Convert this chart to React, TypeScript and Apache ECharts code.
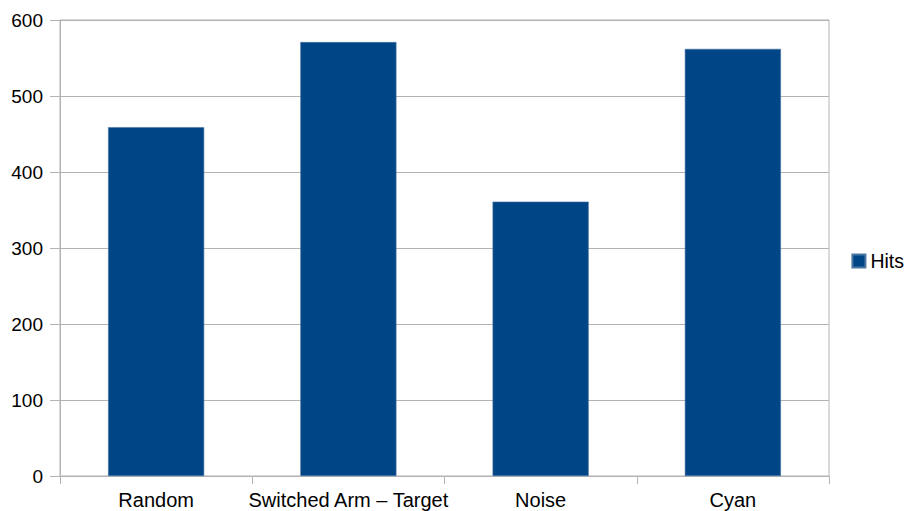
import React, { useEffect, useRef } from "react";
import * as echarts from "echarts";

const categories = ["Random", "Switched Arm – Target", "Noise", "Cyan"];
const hits = [459, 571, 361, 562];
const seriesName = "Hits";

const FONT = "'Liberation Sans', Arial, sans-serif";
const GRID_GREY = "#b3b3b3";

export default function App() {
  const ref = useRef<HTMLDivElement>(null);

  useEffect(() => {
    if (!ref.current) return;
    const chart = echarts.init(ref.current, undefined, { renderer: "svg" });
    chart.setOption({
      animation: false,
      backgroundColor: "#ffffff",
      textStyle: { fontFamily: FONT },
      grid: {
        left: 60,
        right: 80,
        top: 20,
        bottom: 35,
        show: true,
        borderColor: GRID_GREY,
        borderWidth: 1,
      },
      legend: {
        right: 0,
        top: 246,
        orient: "vertical",
        itemWidth: 13,
        itemHeight: 13,
        itemGap: 6,
        icon: "rect",
        textStyle: { fontSize: 19.5, color: "#000", fontFamily: FONT },
        data: [seriesName],
      },
      xAxis: {
        type: "category",
        data: categories,
        boundaryGap: true,
        axisLine: { show: true, lineStyle: { color: GRID_GREY, width: 1 } },
        axisTick: { show: true, length: 8, lineStyle: { color: GRID_GREY } },
        axisLabel: { color: "#000", fontSize: 20, fontFamily: FONT, margin: 14, interval: 0 },
        splitLine: { show: false },
      },
      yAxis: {
        type: "value",
        min: 0,
        max: 600,
        interval: 100,
        axisLine: { show: true, lineStyle: { color: GRID_GREY, width: 1 } },
        axisTick: { show: true, length: 10, lineStyle: { color: GRID_GREY } },
        axisLabel: { color: "#000", fontSize: 19, fontFamily: FONT, margin: 17 },
        splitLine: { show: true, lineStyle: { color: GRID_GREY, width: 1 } },
      },
      series: [
        {
          name: seriesName,
          type: "bar",
          data: hits,
          barWidth: "50%",
          itemStyle: { color: "#004586", borderColor: "#4a76a3", borderWidth: 0.6 },
        },
      ],
    });
    return () => chart.dispose();
  }, []);

  return (
    <div
      ref={ref}
      style={{ position: "fixed", left: 0, top: 0, width: 909, height: 511 }}
    />
  );
}
